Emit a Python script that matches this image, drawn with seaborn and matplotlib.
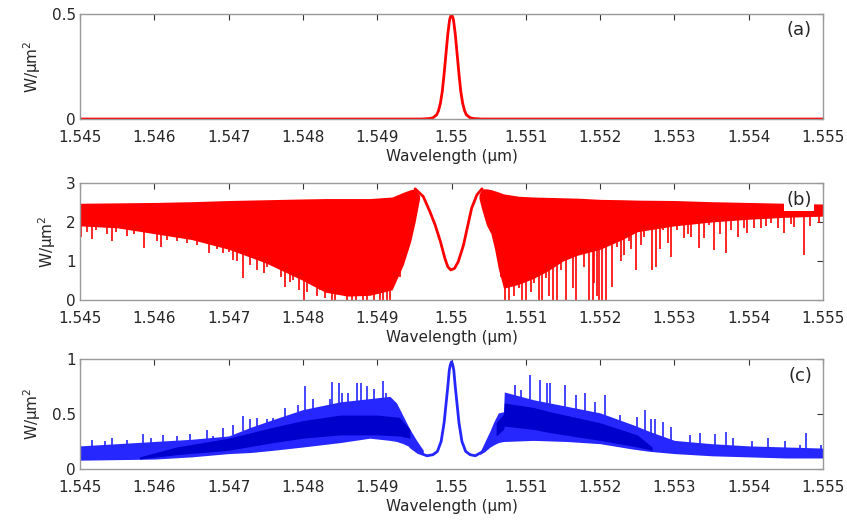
import matplotlib

matplotlib.use("Agg")
import matplotlib.pyplot as plt
import numpy as np
import pandas as pd
import seaborn as sns

# axis ticks (MATLAB-style %g labels)
x_ticks = [1.545, 1.546, 1.547, 1.548, 1.549, 1.550, 1.551, 1.552, 1.553, 1.554, 1.555]
x_tick_labels = ["1.545", "1.546", "1.547", "1.548", "1.549", "1.55",
                 "1.551", "1.552", "1.553", "1.554", "1.555"]

# (a) input pulse
wl_a = [1.545, 1.5496, 1.5497, 1.54975, 1.5498, 1.549825, 1.54985, 1.549875, 1.5499,
        1.549925, 1.54995, 1.549975, 1.55, 1.550025, 1.55005, 1.550075, 1.5501,
        1.550125, 1.55015, 1.550175, 1.5502, 1.55025, 1.5503, 1.5504, 1.555]
pw_a = [0, 0, 0.002, 0.006, 0.02, 0.04, 0.075, 0.13, 0.215, 0.31, 0.405, 0.475, 0.5,
        0.475, 0.405, 0.31, 0.215, 0.13, 0.075, 0.04, 0.02, 0.006, 0.002, 0, 0]

# (b) through port: central dip curve
wl_b_dip = [1.54951, 1.54962, 1.54971, 1.54978, 1.54985, 1.54991, 1.54995, 1.54999,
            1.55004, 1.55009, 1.55016, 1.55022, 1.55027, 1.55034, 1.55041]
pw_b_dip = [2.85, 2.65, 2.26, 1.92, 1.50, 1.07, 0.85, 0.77,
            0.81, 0.98, 1.40, 1.92, 2.35, 2.69, 2.85]

# (b) dense chaotic band: upper envelope and solid lower edge
wl_b_left = [1.545, 1.5455, 1.546, 1.5465, 1.547, 1.5475, 1.548, 1.5483, 1.5486,
             1.5489, 1.5492, 1.54935, 1.54945, 1.54951, 1.54957]
top_b_left = [2.48, 2.49, 2.50, 2.52, 2.55, 2.57, 2.59, 2.60, 2.60,
              2.60, 2.64, 2.76, 2.83, 2.85, 2.68]
low_b_left = [1.90, 1.85, 1.70, 1.55, 1.30, 0.95, 0.50, 0.20, 0.10,
              0.12, 0.26, 0.90, 1.50, 2.00, 2.60]

wl_b_right = [1.55037, 1.55041, 1.55047, 1.55053, 1.55058, 1.55063, 1.5507, 1.5509,
              1.5511, 1.5513, 1.5515, 1.5517, 1.552, 1.5523, 1.5525, 1.553, 1.5535,
              1.554, 1.5545, 1.555]
top_b_right = [2.70, 2.85, 2.85, 2.83, 2.80, 2.77, 2.72, 2.66, 2.64, 2.63, 2.62,
               2.61, 2.58, 2.57, 2.56, 2.55, 2.52, 2.50, 2.48, 2.46]
low_b_right = [2.60, 2.30, 1.92, 1.70, 1.30, 0.80, 0.30, 0.40, 0.55, 0.75, 1.00,
               1.15, 1.30, 1.55, 1.75, 1.90, 2.00, 2.07, 2.12, 2.15]

# (b) downward spikes (wavelength, lowest value)
spk_b_wl = [1.54501, 1.54509, 1.54516, 1.54522, 1.54528, 1.54536, 1.54543, 1.54549,
            1.54563, 1.54572, 1.54586, 1.54593, 1.54603, 1.54609, 1.54617, 1.54630,
            1.54644, 1.54657, 1.54673, 1.54684, 1.54693, 1.54700, 1.54706, 1.54711,
            1.54720, 1.54723, 1.54729, 1.54738, 1.54747, 1.54751, 1.54758, 1.54765,
            1.54771, 1.54776, 1.54783, 1.54787, 1.54795, 1.54801, 1.54805, 1.54810,
            1.54814, 1.54819, 1.54823, 1.54830, 1.54839, 1.54843, 1.54845, 1.54859,
            1.54866, 1.54868, 1.54872, 1.54881, 1.54886, 1.54893, 1.54895, 1.54904,
            1.54908, 1.54913, 1.54917, 1.54931, 1.54942,
            1.55066, 1.55072, 1.55077, 1.55084, 1.55091, 1.55095, 1.55100, 1.55107,
            1.55111, 1.55118, 1.55122, 1.55127, 1.55131, 1.55136, 1.55142, 1.55147,
            1.55154, 1.55158, 1.55163, 1.55167, 1.55174, 1.55178, 1.55185, 1.55190,
            1.55192, 1.55196, 1.55199, 1.55203, 1.55208, 1.55216, 1.55223, 1.55228,
            1.55232, 1.55239, 1.55241, 1.55248, 1.55255, 1.55259, 1.55270, 1.55275,
            1.55280, 1.55284, 1.55291, 1.55295, 1.55304, 1.55313, 1.55318, 1.55322,
            1.55333, 1.55340, 1.55347, 1.55353, 1.55362, 1.55369, 1.55376, 1.55385,
            1.55394, 1.55398, 1.55407, 1.55416, 1.55423, 1.55430, 1.55439, 1.55448,
            1.55457, 1.55461, 1.55474, 1.55483, 1.55495]
spk_b_val = [1.62, 1.75, 1.56, 1.80, 2.05, 1.70, 1.50, 1.75,
             1.65, 1.70, 1.33, 1.92, 1.50, 1.37, 1.55, 1.50,
             1.45, 1.40, 1.20, 1.30, 1.20, 1.24, 1.02, 1.00,
             0.56, 1.41, 0.90, 0.77, 0.70, 0.85, 0.90, 0.94,
             0.60, 0.34, 0.45, 0.51, 0.26, 0.00, 0.20, 1.11,
             0.60, 0.10, 0.26, 0.05, 0.00, 0.00, 0.26, 0.00,
             0.00, 0.34, 0.00, 0.00, 0.00, 0.34, 0.00, 0.00,
             0.00, 0.00, 0.00, 0.60, 1.28,
             0.60, 0.00, 0.00, 0.10, 0.30, 0.00, 0.00, 0.20,
             0.43, 0.00, 0.00, 0.56, 0.10, 0.00, 0.00, 0.77,
             0.00, 1.11, 0.30, 0.00, 1.32, 0.85, 0.00, 0.00,
             0.43, 0.09, 0.00, 0.00, 0.00, 0.34, 1.37, 1.00,
             1.15, 1.50, 1.30, 0.77, 1.40, 1.62, 0.77, 0.85,
             1.30, 1.79, 1.45, 1.11, 1.79, 1.58, 1.70, 1.62,
             1.32, 1.60, 1.92, 1.28, 1.70, 1.20, 1.79, 1.62,
             1.85, 1.71, 1.84, 1.84, 1.90, 1.97, 1.85, 1.71,
             1.95, 1.88, 1.15, 1.90, 1.97]

# (c) drop port: central peak curve
wl_c_peak = [1.54945, 1.54955, 1.54967, 1.54975, 1.54981, 1.54986, 1.5499, 1.54995,
             1.54997, 1.549985, 1.55, 1.550015, 1.55003, 1.55005, 1.5501, 1.55014,
             1.55019, 1.55025, 1.55032, 1.55045]
pw_c_peak = [0.20, 0.15, 0.12, 0.13, 0.16, 0.25, 0.42, 0.75,
             0.90, 0.95, 0.975, 0.95, 0.90, 0.75, 0.42, 0.25,
             0.16, 0.13, 0.12, 0.17]

# (c) dense band: upper envelope and floor
wl_c_left = [1.545, 1.5455, 1.546, 1.5465, 1.547, 1.5473, 1.5476, 1.548, 1.5485,
             1.5489, 1.54917, 1.54926, 1.54935, 1.54944, 1.54953, 1.54962]
top_c_left = [0.21, 0.23, 0.25, 0.27, 0.30, 0.38, 0.45, 0.54, 0.61,
              0.64, 0.66, 0.60, 0.48, 0.36, 0.26, 0.17]
low_c_left = [0.08, 0.085, 0.09, 0.11, 0.14, 0.15, 0.17, 0.20, 0.24,
              0.28, 0.26, 0.25, 0.23, 0.20, 0.17, 0.14]

wl_c_right = [1.55038, 1.55045, 1.55052, 1.55057, 1.55063, 1.5507, 1.55071, 1.5511,
              1.55155, 1.552, 1.55245, 1.55267, 1.553, 1.5535, 1.554, 1.5545, 1.555]
top_c_right = [0.15, 0.25, 0.35, 0.43, 0.51, 0.52, 0.70, 0.63,
               0.57, 0.51, 0.40, 0.34, 0.26, 0.23, 0.21, 0.20, 0.19]
low_c_right = [0.13, 0.16, 0.20, 0.22, 0.24, 0.25, 0.25, 0.26,
               0.25, 0.23, 0.18, 0.16, 0.14, 0.12, 0.11, 0.10, 0.10]

# (c) darker overlap band
wl_dark_left = [1.5458, 1.5463, 1.547, 1.5476, 1.548, 1.5485, 1.549, 1.5493, 1.54944]
top_dark_left = [0.11, 0.20, 0.28, 0.38, 0.44, 0.49, 0.49, 0.47, 0.36]
low_dark_left = [0.09, 0.13, 0.17, 0.24, 0.28, 0.31, 0.31, 0.30, 0.28]
wl_dark_right = [1.5506, 1.5507, 1.55071, 1.5511, 1.55133, 1.552, 1.5525, 1.5527]
top_dark_right = [0.42, 0.50, 0.60, 0.56, 0.52, 0.42, 0.31, 0.20]
low_dark_right = [0.30, 0.36, 0.39, 0.36, 0.33, 0.26, 0.20, 0.17]

# (c) upward spikes (wavelength, peak value)
spk_c_wl = [1.54516, 1.54534, 1.54543, 1.54563, 1.54585, 1.54596, 1.54612, 1.54630,
            1.54648, 1.54671, 1.54679, 1.54693, 1.54706, 1.54720, 1.54729, 1.54738,
            1.54751, 1.54760, 1.54776, 1.54794, 1.54803, 1.54814, 1.54836, 1.54839,
            1.54848, 1.54852, 1.54861, 1.54873, 1.54878, 1.54886, 1.54895, 1.54908,
            1.54912,
            1.55085, 1.55094, 1.55106, 1.55119, 1.55128, 1.55133, 1.55153, 1.55168,
            1.55180, 1.55193, 1.55207, 1.55227, 1.55249, 1.55261, 1.55269, 1.55274,
            1.55285, 1.55296, 1.55321, 1.55334, 1.55355, 1.55370, 1.55379, 1.55404,
            1.55426, 1.55449, 1.55469, 1.55477, 1.55497]
spk_c_val = [0.26, 0.25, 0.28, 0.26, 0.32, 0.28, 0.31, 0.30,
             0.32, 0.35, 0.30, 0.37, 0.40, 0.48, 0.45, 0.46,
             0.45, 0.46, 0.55, 0.58, 0.75, 0.64, 0.64, 0.79,
             0.78, 0.69, 0.69, 0.78, 0.78, 0.75, 0.73, 0.80,
             0.69,
             0.76, 0.72, 0.85, 0.81, 0.78, 0.78, 0.76, 0.67,
             0.69, 0.61, 0.67, 0.49, 0.47, 0.54, 0.45, 0.45,
             0.43, 0.38, 0.31, 0.33, 0.32, 0.34, 0.28, 0.25,
             0.28, 0.25, 0.22, 0.33, 0.22]

RED = "#ff0000"
BLUE = "#2626ff"
DARK_BLUE = "#0000cc"


def style_axis(ax, y_ticks, y_labels, y_max, tag, tag_box=False):
    ax.set_xlim(1.545, 1.555)
    ax.set_ylim(0, y_max)
    ax.set_xticks(x_ticks)
    ax.set_xticklabels(x_tick_labels)
    ax.set_yticks(y_ticks)
    ax.set_yticklabels(y_labels)
    ax.tick_params(direction="in", top=True, right=True, length=4, width=0.8,
                   color="#333333", labelsize=11)
    ax.tick_params(axis="x", pad=8)
    ax.tick_params(axis="y", pad=3)
    for side in ax.spines.values():
        side.set_color("#999999")
        side.set_linewidth(1.0)
    ax.set_xlabel("Wavelength (μm)", fontsize=11, labelpad=3)
    ax.set_ylabel("W/μm$^{2}$", fontsize=11, labelpad=6)
    box = dict(facecolor="white", edgecolor="none", pad=1.5) if tag_box else None
    ax.text(0.985, 0.93, tag, transform=ax.transAxes, ha="right", va="top",
            fontsize=13, bbox=box, zorder=10)


def main() -> None:
    sns.set_style("white")
    plt.rcParams["font.family"] = ["DejaVu Sans"]

    fig = plt.figure(figsize=(8.47, 5.25), dpi=100)
    ax_a = fig.add_axes([0.0945, 0.7733, 0.8772, 0.2000])
    ax_b = fig.add_axes([0.0945, 0.4286, 0.8772, 0.2229])
    ax_c = fig.add_axes([0.0945, 0.1067, 0.8772, 0.2095])

    # (a)
    df_a = pd.DataFrame({"wl": wl_a, "pw": pw_a})
    sns.lineplot(data=df_a, x="wl", y="pw", color=RED, linewidth=2, ax=ax_a)
    style_axis(ax_a, [0, 0.5], ["0", "0.5"], 0.5, "(a)")

    # (b)
    ax_b.fill_between(wl_b_left, low_b_left, top_b_left, color=RED, linewidth=0)
    ax_b.fill_between(wl_b_right, low_b_right, top_b_right, color=RED, linewidth=0)
    ax_b.vlines(spk_b_wl, spk_b_val, 2.4, color=RED, linewidth=1.2)
    df_b = pd.DataFrame({"wl": wl_b_dip, "pw": pw_b_dip})
    sns.lineplot(data=df_b, x="wl", y="pw", color=RED, linewidth=2, ax=ax_b)
    style_axis(ax_b, [0, 1, 2, 3], ["0", "1", "2", "3"], 3, "(b)", tag_box=True)

    # (c)
    ax_c.fill_between(wl_c_left, low_c_left, top_c_left, color=BLUE, linewidth=0)
    ax_c.fill_between(wl_c_right, low_c_right, top_c_right, color=BLUE, linewidth=0)
    ax_c.fill_between(wl_dark_left, low_dark_left, top_dark_left, color=DARK_BLUE, linewidth=0)
    ax_c.fill_between(wl_dark_right, low_dark_right, top_dark_right, color=DARK_BLUE, linewidth=0)
    wl_all = wl_c_left + wl_c_right
    top_all = top_c_left + top_c_right
    base = np.interp(spk_c_wl, wl_all, top_all) - 0.01
    ax_c.vlines(spk_c_wl, base, spk_c_val, color=BLUE, linewidth=1.2)
    df_c = pd.DataFrame({"wl": wl_c_peak, "pw": pw_c_peak})
    sns.lineplot(data=df_c, x="wl", y="pw", color=BLUE, linewidth=2, ax=ax_c)
    style_axis(ax_c, [0, 0.5, 1], ["0", "0.5", "1"], 1, "(c)")

    fig.savefig("out.png", dpi=100)
    plt.close(fig)


if __name__ == "__main__":
    main()
